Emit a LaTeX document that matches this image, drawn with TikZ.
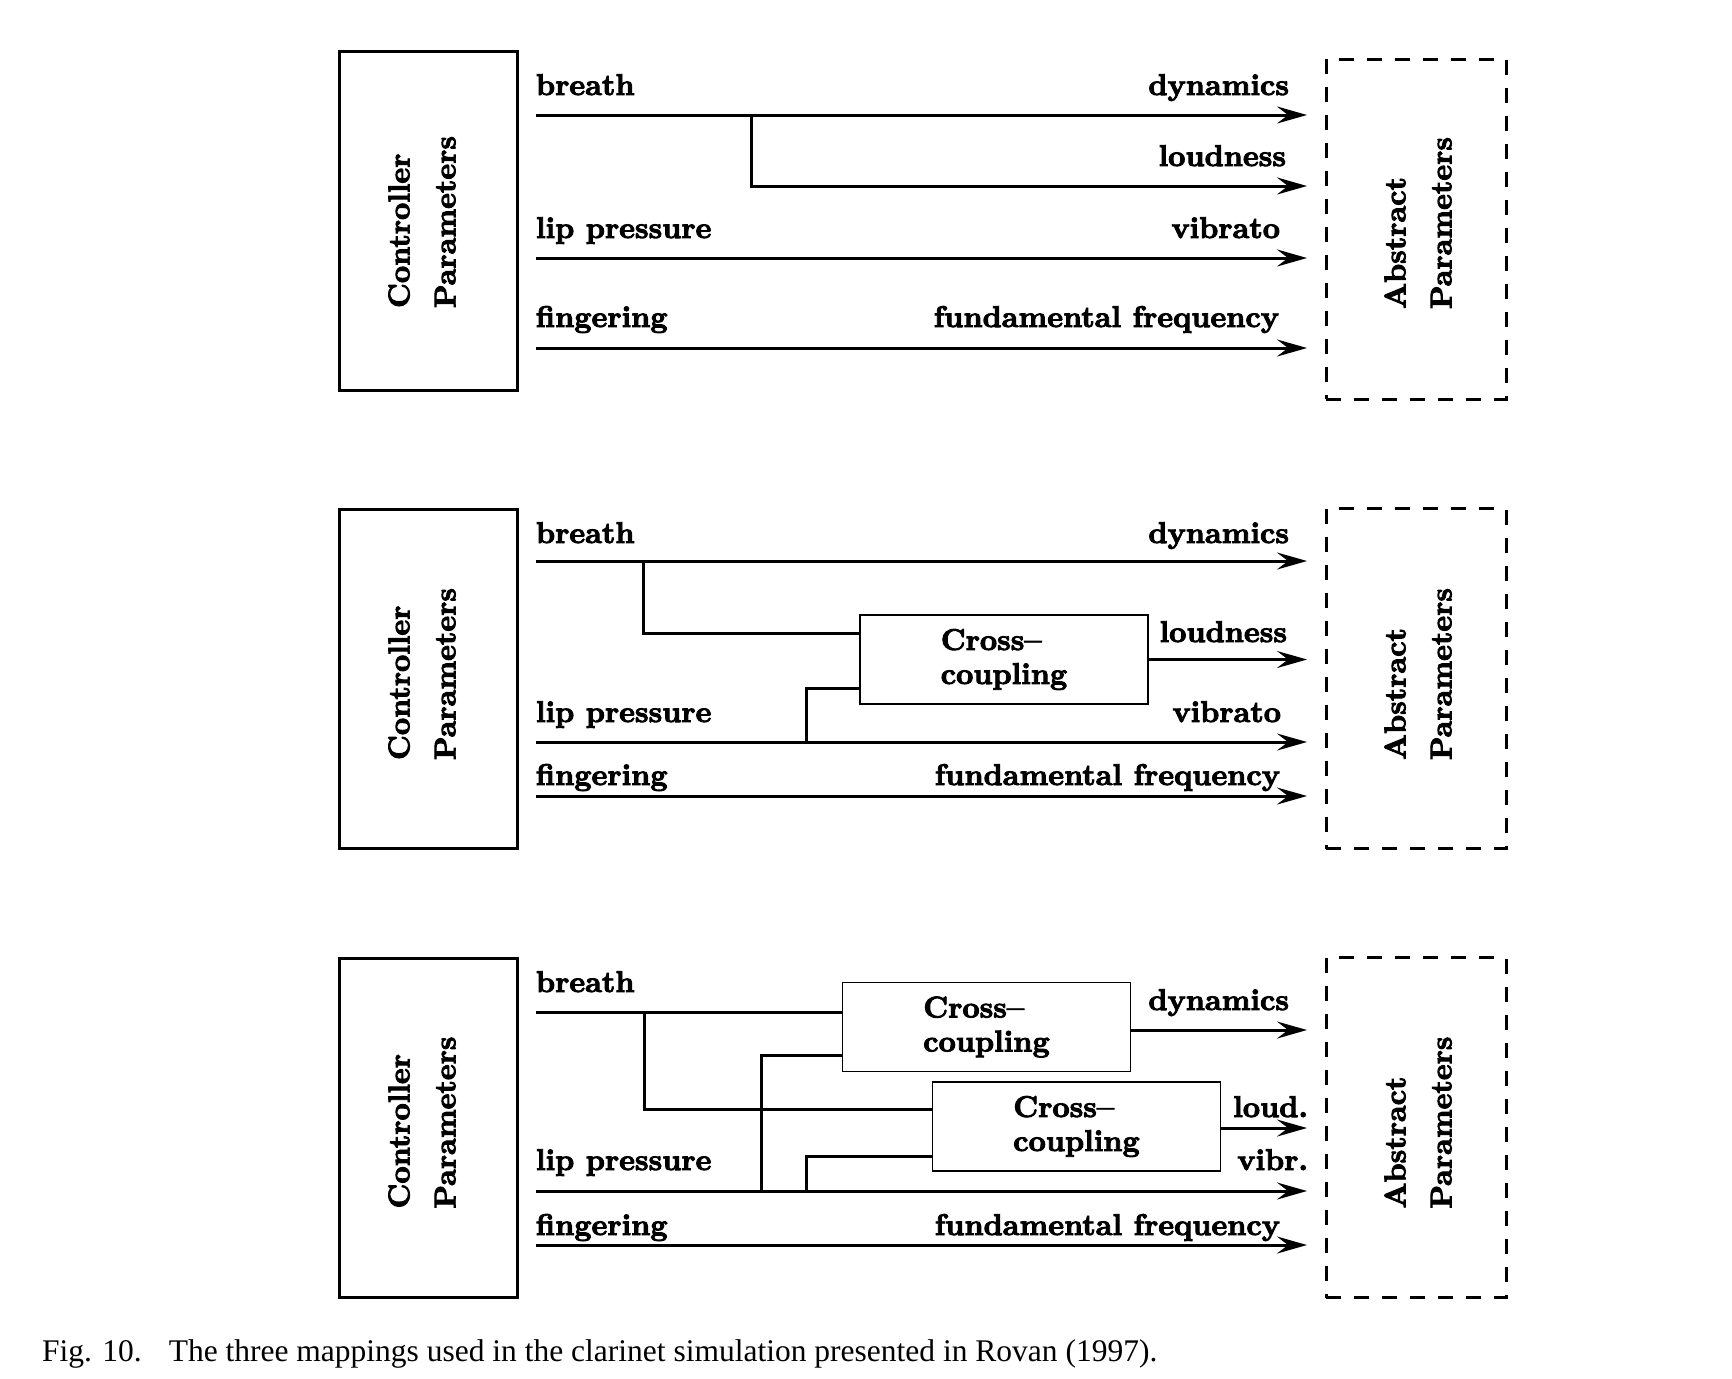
\documentclass[tikz,border=0pt]{standalone}
\usepackage{fontspec}
\newfontfamily\capfont{Liberation Serif}
\newfontfamily\lmbf{lmroman10-bold}[Extension=.otf, FakeBold=3, Ligatures=TeX]
\usetikzlibrary{arrows.meta}
\begin{document}
\begin{tikzpicture}[x=0.5pt,y=-0.5pt,
  every node/.style={inner sep=0pt, outer sep=0pt},
  lbl/.style={font=\lmbf\fontsize{15}{18}\selectfont},
  vlbl/.style={font=\lmbf\fontsize{15}{23}\selectfont, rotate=90, align=left},
  ctrlbox/.style={draw, line width=1.5pt, minimum width=89pt, minimum height=169.5pt},
  absbox/.style={draw, line width=1.5pt, dash pattern=on 7.5pt off 6.5pt, minimum width=90pt, minimum height=170pt},
  ccbox/.style={draw, line width=0.7pt, minimum width=144pt, minimum height=44.5pt, align=left, font=\lmbf\fontsize{15}{17}\selectfont},
  wire/.style={line width=1.5pt},
  arr/.style={line width=1.5pt, -{Stealth[length=15pt,width=8.5pt,inset=5.5pt]}},
]
\path[use as bounding box] (0,0) rectangle (1732,1378);

% ---------------- Panel 1 ----------------
\node[ctrlbox] (cp1) at (428,221) {};
\node[vlbl] (cp1t) at (422,222) {Controller\\Parameters};
\node[absbox] (ap1) at (1416,229) {};
\node[vlbl] (ap1t) at (1418,223) {Abstract\\Parameters};

\coordinate (b1s) at (536,115); \coordinate (b1e) at (1307,115);
\coordinate (j1)  at (751,115); \coordinate (l1e) at (1307,186);
\coordinate (p1s) at (536,258); \coordinate (p1e) at (1307,258);
\coordinate (f1s) at (536,348); \coordinate (f1e) at (1307,348);
\draw[arr] (b1s) -- (b1e);
\draw[arr] (j1) |- (l1e);
\draw[arr] (p1s) -- (p1e);
\draw[arr] (f1s) -- (f1e);

\node[lbl, anchor=base west] (t1a) at (536,95) {breath};
\node[lbl, anchor=base west] (t1b) at (536,238) {lip pressure};
\node[lbl, anchor=base west] (t1c) at (536,327) {fingering};
\node[lbl, anchor=base east] (t1d) at (1289,95) {dynamics};
\node[lbl, anchor=base east] (t1e) at (1286,166) {loudness};
\node[lbl, anchor=base east] (t1f) at (1280,238) {vibrato};
\node[lbl, anchor=base east] (t1g) at (1279,327) {fundamental frequency};

% ---------------- Panel 2 ----------------
\node[ctrlbox] (cp2) at (428,679) {};
\node[vlbl] (cp2t) at (422,674) {Controller\\Parameters};
\node[absbox] (ap2) at (1416,678.5) {};
\node[vlbl] (ap2t) at (1418,674) {Abstract\\Parameters};
\node[ccbox] (cc2) at (1004,659.5) {Cross--\\coupling};

\coordinate (b2s) at (536,561); \coordinate (b2e) at (1307,561);
\coordinate (j2a) at (643,561); \coordinate (j2b) at (643,633);
\coordinate (l2e) at (1307,659.5);
\coordinate (p2s) at (536,742); \coordinate (p2e) at (1307,742);
\coordinate (j2c) at (806,742); \coordinate (j2d) at (806,688);
\coordinate (f2s) at (536,796); \coordinate (f2e) at (1307,796);
\draw[arr] (b2s) -- (b2e);
\draw[wire] (j2a) -- (j2b) -- (j2b -| cc2.west);
\draw[arr] (cc2.east) -- (l2e);
\draw[arr] (p2s) -- (p2e);
\draw[wire] (j2c) -- (j2d) -- (j2d -| cc2.west);
\draw[arr] (f2s) -- (f2e);

\node[lbl, anchor=base west] (t2a) at (536,543) {breath};
\node[lbl, anchor=base west] (t2b) at (536,722) {lip pressure};
\node[lbl, anchor=base west] (t2c) at (536,785) {fingering};
\node[lbl, anchor=base east] (t2d) at (1289,543) {dynamics};
\node[lbl, anchor=base east] (t2e) at (1287,642) {loudness};
\node[lbl, anchor=base east] (t2f) at (1281,722) {vibrato};
\node[lbl, anchor=base east] (t2g) at (1280,785) {fundamental frequency};

% ---------------- Panel 3 ----------------
\node[ctrlbox] (cp3) at (428,1127.5) {};
\node[vlbl] (cp3t) at (422,1122.5) {Controller\\Parameters};
\node[absbox] (ap3) at (1416,1127.5) {};
\node[vlbl] (ap3t) at (1418,1122.5) {Abstract\\Parameters};
\node[ccbox] (cc3a) at (986.5,1027) {Cross--\\coupling};
\node[ccbox] (cc3b) at (1076.5,1126.5) {Cross--\\coupling};

\coordinate (b3s) at (536,1012);
\coordinate (d3e) at (1307,1030);
\coordinate (j3a) at (644,1012); \coordinate (j3b) at (644,1109);
\coordinate (l3e) at (1307,1128);
\coordinate (p3s) at (536,1191); \coordinate (p3e) at (1307,1191);
\coordinate (j3c) at (761,1191); \coordinate (j3d) at (761,1055);
\coordinate (j3e) at (806,1191); \coordinate (j3f) at (806,1156);
\coordinate (f3s) at (536,1245); \coordinate (f3e) at (1307,1245);
\draw[wire] (b3s) -- (b3s -| cc3a.west);
\draw[arr] (cc3a.east |- d3e) -- (d3e);
\draw[wire] (j3a) -- (j3b) -- (j3b -| cc3b.west);
\draw[arr] (cc3b.east |- l3e) -- (l3e);
\draw[arr] (p3s) -- (p3e);
\draw[wire] (j3c) -- (j3d) -- (j3d -| cc3a.west);
\draw[wire] (j3e) -- (j3f) -- (j3f -| cc3b.west);
\draw[arr] (f3s) -- (f3e);

\node[lbl, anchor=base west] (t3a) at (536,992) {breath};
\node[lbl, anchor=base west] (t3b) at (536,1170) {lip pressure};
\node[lbl, anchor=base west] (t3c) at (536,1235) {fingering};
\node[lbl, anchor=base east] (t3d) at (1289,1010) {dynamics};
\node[lbl, anchor=base east] (t3e) at (1308,1117) {loud.};
\node[lbl, anchor=base east] (t3f) at (1308,1170) {vibr.};
\node[lbl, anchor=base east] (t3g) at (1280,1235) {fundamental frequency};

% ---------------- Caption ----------------
\node[anchor=base west, font=\capfont\fontsize{15.75}{18}\selectfont] (cap) at (42,1361)
  {Fig. 10.\hspace{13.5pt}The three mappings used in the clarinet simulation presented in Rovan (1997).};
\end{tikzpicture}
\end{document}
